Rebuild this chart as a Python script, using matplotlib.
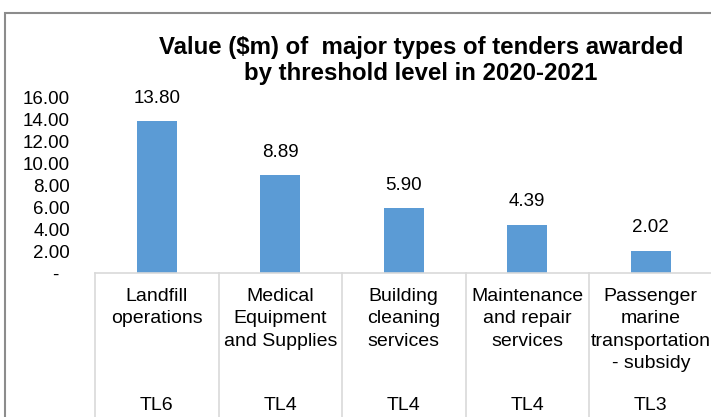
import matplotlib
matplotlib.use("Agg")
import matplotlib.pyplot as plt
from matplotlib.patches import Rectangle
from matplotlib.transforms import blended_transform_factory

plt.rcParams['font.family'] = ['Liberation Sans', 'DejaVu Sans']

categories = ['Landfill\noperations', 'Medical\nEquipment\nand Supplies',
              'Building\ncleaning\nservices', 'Maintenance\nand repair\nservices',
              'Passenger\nmarine\ntransportation\n- subsidy']
levels = ['TL6', 'TL4', 'TL4', 'TL4', 'TL3']
values = [13.80, 8.89, 5.90, 4.39, 2.02]
yticks = [0, 2, 4, 6, 8, 10, 12, 14, 16]

bar_color = '#5B9BD5'
grid_color = '#D9D9D9'

fig = plt.figure(figsize=(7.11, 4.17), dpi=100)
ax = fig.add_axes([95 / 711, 144 / 417, 617.5 / 711, 176 / 417])

x = list(range(len(values)))
ax.bar(x, values, width=0.32, color=bar_color, zorder=2)

for xi, v in zip(x, values):
    ax.annotate(f'{v:.2f}', (xi, v), xytext=(0, 16.5), textcoords='offset points',
                ha='center', va='center', fontsize=13.5)

ax.set_xlim(-0.5, len(values) - 0.5)
ax.set_ylim(0, 16)
ax.set_yticks(yticks)
ax.set_yticklabels(['-  ' if t == 0 else f'{t:.2f}' for t in yticks], fontsize=13.5)
ax.tick_params(axis='y', length=0, pad=18)
ax.set_xticks([])

for s in ['top', 'right', 'left']:
    ax.spines[s].set_visible(False)
ax.spines['bottom'].set_color(grid_color)
ax.spines['bottom'].set_linewidth(1.2)

trans = blended_transform_factory(ax.transData, ax.transAxes)
for b in range(len(values) + 1):
    ax.plot([b - 0.5, b - 0.5], [0, -1.2], transform=trans, color=grid_color,
            lw=1.2, clip_on=False)

for xi, cat, lvl in zip(x, categories, levels):
    ax.text(xi, -0.085, cat, transform=trans, ha='center', va='top',
            fontsize=14, linespacing=1.42, multialignment='center')
    ax.text(xi, -0.75, lvl, transform=trans, ha='center', va='center', fontsize=14)

fig.text(421 / 711, 1 - 60.5 / 417,
         'Value ($m) of  major types of tenders awarded\nby threshold level in 2020-2021',
         ha='center', va='center', fontsize=17.3, fontweight='bold', linespacing=1.22,
         multialignment='center')

# chart border (cropped in the original)
fig.patches.append(Rectangle((5 / 711, -0.1), 1.2, 1.1 - 13 / 417, transform=fig.transFigure,
                             fill=False, edgecolor='#8c8c8c', lw=1.5))

fig.savefig('out.png', dpi=100)
